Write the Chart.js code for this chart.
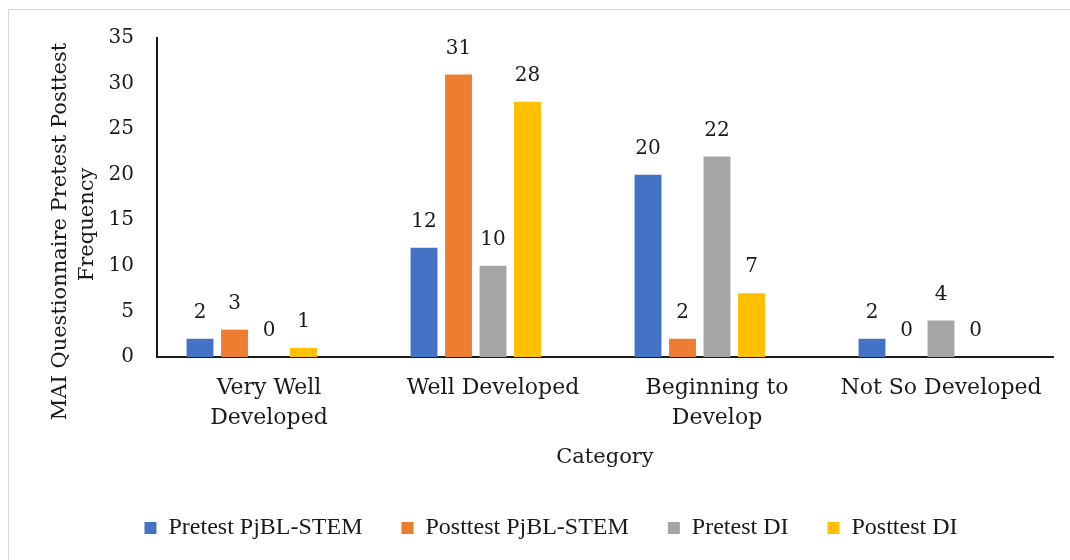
<!DOCTYPE html>
<html>
<head>
<meta charset="utf-8">
<script src="https://cdn.jsdelivr.net/npm/chart.js@4.4.1/dist/chart.umd.min.js"></script>
<style>
    html, body { margin: 0; padding: 0; background: #fff; }
    #wrap { position: relative; width: 1070px; height: 560px; }
    #frame {
        position: absolute; left: 8px; top: 9px; right: 0; bottom: 0;
        border-top: 1px solid #d9d9d9; border-left: 1px solid #d9d9d9;
    }
    canvas { position: absolute; left: 0; top: 0; }
</style>
</head>
<body>
<div id="wrap">
    <div id="frame"></div>
    <canvas id="maiChart" width="1070" height="560"></canvas>
</div>
<script>
// Chart data
const categories = [['Very Well', 'Developed'], 'Well Developed', ['Beginning to', 'Develop'], 'Not So Developed'];
const pretestPjbl = [2, 12, 20, 2];
const posttestPjbl = [3, 31, 2, 0];
const pretestDI = [0, 10, 22, 4];
const posttestDI = [1, 28, 7, 0];
// empty fifth series in the original workbook (takes up a slot, draws nothing)
const emptySeries = [null, null, null, null];
const yTicks = [0, 5, 10, 15, 20, 25, 30, 35];
const yTitleLines = ['MAI Questionnaire Pretest Posttest', 'Frequency'];

const SERIF = '"DejaVu Serif", serif';
const LEGEND_FONT = '"Liberation Serif", serif';
const TEXT = '#1a1a1a';

// value labels above each bar, zeros included
const valueLabels = {
    id: 'valueLabels',
    afterDatasetsDraw(chart) {
        const ctx = chart.ctx;
        ctx.save();
        ctx.font = '20px ' + SERIF;
        ctx.fillStyle = TEXT;
        ctx.textAlign = 'center';
        ctx.textBaseline = 'middle';
        chart.data.datasets.forEach((ds, i) => {
            const meta = chart.getDatasetMeta(i);
            meta.data.forEach((bar, j) => {
                const v = ds.data[j];
                if (v === null || v === undefined) return;
                ctx.fillText(String(v), bar.x, bar.y - 26);
            });
        });
        ctx.restore();
    }
};

// y title, sits a bit lower than the plot centre like in the original
const yTitle = {
    id: 'yTitle',
    afterDraw(chart) {
        const ctx = chart.ctx;
        const area = chart.chartArea;
        const mid = (area.top + area.bottom) / 2;
        const shifts = [34, 27];
        ctx.save();
        ctx.font = '21px ' + SERIF;
        ctx.fillStyle = TEXT;
        ctx.textAlign = 'center';
        ctx.textBaseline = 'middle';
        yTitleLines.forEach((line, k) => {
            ctx.save();
            ctx.translate(61 + k * 27, mid + shifts[k]);
            ctx.rotate(-Math.PI / 2);
            ctx.fillText(line, 0, 0);
            ctx.restore();
        });
        ctx.restore();
    }
};

const ctx = document.getElementById('maiChart').getContext('2d');
new Chart(ctx, {
    type: 'bar',
    data: {
        labels: categories,
        datasets: [
            { label: 'Pretest PjBL-STEM', data: pretestPjbl, backgroundColor: '#4472C4' },
            { label: 'Posttest PjBL-STEM', data: posttestPjbl, backgroundColor: '#ED7D31' },
            { label: 'Pretest DI', data: pretestDI, backgroundColor: '#A5A5A5' },
            { label: 'Posttest DI', data: posttestDI, backgroundColor: '#FFC000' },
            { label: '', data: emptySeries, backgroundColor: 'rgba(0,0,0,0)' }
        ]
    },
    options: {
        responsive: false,
        animation: false,
        categoryPercentage: 0.77,
        barPercentage: 0.78,
        layout: {
            padding: { top: 38, left: 49, right: 17, bottom: 10 }
        },
        plugins: {
            legend: {
                position: 'bottom',
                labels: {
                    filter: (item) => item.text !== '',
                    boxWidth: 12,
                    boxHeight: 12,
                    padding: 39,
                    color: TEXT,
                    font: { family: LEGEND_FONT, size: 24 }
                }
            },
            tooltip: { enabled: false }
        },
        scales: {
            x: {
                grid: { display: false, drawTicks: false },
                border: { display: true, color: '#1a1a1a', width: 2 },
                ticks: {
                    color: TEXT,
                    padding: 16,
                    maxRotation: 0,
                    autoSkip: false,
                    font: { family: SERIF, size: 22, lineHeight: 1.36 }
                },
                title: {
                    display: true,
                    text: 'Category',
                    color: TEXT,
                    padding: { top: 10, bottom: 7 },
                    font: { family: SERIF, size: 21 }
                },
                afterFit(scale) { scale.height = 120; }
            },
            y: {
                min: 0,
                max: 35,
                grid: { display: false, drawTicks: false },
                border: { display: true, color: '#1a1a1a', width: 2 },
                afterBuildTicks(scale) {
                    scale.ticks = yTicks.map(v => ({ value: v }));
                },
                ticks: {
                    color: TEXT,
                    padding: 23,
                    font: { family: SERIF, size: 20 }
                },
                afterFit(scale) { scale.width = 108; }
            }
        }
    },
    plugins: [valueLabels, yTitle]
});
</script>
</body>
</html>
